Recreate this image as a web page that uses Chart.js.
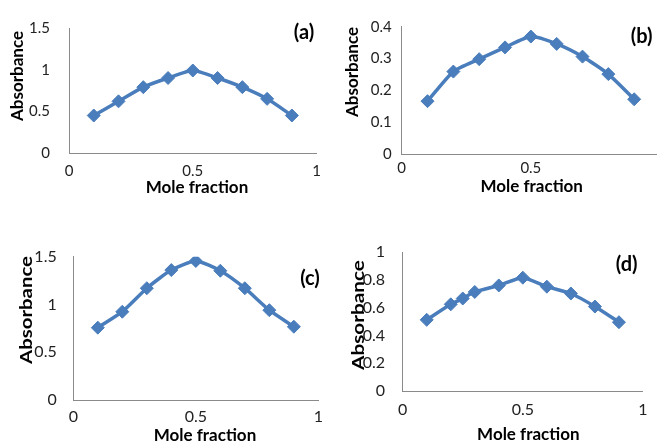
<!DOCTYPE html>
<html lang="en">
<head>
    <meta charset="UTF-8">
    <title>Absorbance vs mole fraction</title>
    <script src="https://cdn.jsdelivr.net/npm/chart.js"></script>
    <style>
        html, body { margin: 0; padding: 0; background: #fff; overflow: hidden; }
        #page { position: relative; width: 657px; height: 445px; overflow: hidden; }
        canvas { position: absolute; }
    </style>
</head>
<body>
<div id="page">
    <canvas id="chartA" width="330" height="200" style="left:0;top:0"></canvas>
    <canvas id="chartB" width="340" height="200" style="left:330px;top:0"></canvas>
    <canvas id="chartC" width="330" height="220" style="left:0;top:225px"></canvas>
    <canvas id="chartD" width="327" height="220" style="left:330px;top:225px"></canvas>
</div>

<script>
    // mole fractions used in each series
    const moleFraction = [0.1, 0.2, 0.3, 0.4, 0.5, 0.6, 0.7, 0.8, 0.9];
    const moleFractionD = [0.1, 0.2, 0.25, 0.3, 0.4, 0.5, 0.6, 0.7, 0.8, 0.9];

    // absorbance readings
    const absorbanceA = [0.45, 0.62, 0.79, 0.90, 0.99, 0.90, 0.79, 0.65, 0.45];
    const absorbanceB = [0.166, 0.259, 0.298, 0.335, 0.369, 0.346, 0.306, 0.251, 0.172];
    const absorbanceC = [0.757, 0.924, 1.17, 1.36, 1.455, 1.353, 1.17, 0.94, 0.767];
    const absorbanceD = [0.513, 0.625, 0.667, 0.714, 0.761, 0.817, 0.752, 0.703, 0.609, 0.496];

    // axis ticks
    const xTicks = [0, 0.5, 1];
    const yTicksA = [0, 0.5, 1, 1.5];
    const yTicksB = [0, 0.1, 0.2, 0.3, 0.4];
    const yTicksC = [0, 0.5, 1, 1.5];
    const yTicksD = [0, 0.2, 0.4, 0.6, 0.8, 1];

    const lineBlue = '#4a7dbb';

    // draws panel tag and axis titles
    const panelText = {
        id: 'panelText',
        afterDraw(chart, args, o) {
            const ctx = chart.ctx;
            ctx.save();
            ctx.fillStyle = '#000';
            ctx.textAlign = 'center';
            ctx.textBaseline = 'middle';
            ctx.font = 'bold 20px Lato';
            ctx.fillText(o.tag, o.tagX, o.tagY);
            ctx.font = 'bold 17px Lato';
            ctx.fillText('Mole fraction', o.xTitleX, o.xTitleY);
            ctx.translate(o.yTitleX, o.yTitleY);
            ctx.scale(1, o.stretch);
            ctx.rotate(-Math.PI / 2);
            ctx.fillText('Absorbance', 0, 0);
            ctx.restore();
        }
    };

    function makePanel(id, xs, ys, yTicks, g, text) {
        const tickFont = { family: 'Lato', size: g.tickSize };
        return new Chart(document.getElementById(id), {
            type: 'line',
            data: {
                datasets: [{
                    data: xs.map((x, i) => ({ x: x, y: ys[i] })),
                    borderColor: lineBlue,
                    backgroundColor: lineBlue,
                    borderWidth: 3.5,
                    tension: 0.2,
                    pointStyle: 'rectRot',
                    pointRadius: 6.5,
                    pointBorderWidth: 1
                }]
            },
            options: {
                responsive: false,
                animation: false,
                layout: { padding: { top: g.padTop, right: g.padRight, left: 0, bottom: 0 } },
                plugins: {
                    legend: { display: false },
                    tooltip: { enabled: false },
                    panelText: text
                },
                scales: {
                    x: {
                        type: 'linear',
                        min: 0,
                        max: 1,
                        afterBuildTicks: s => { s.ticks = xTicks.map(v => ({ value: v })); },
                        afterFit: s => { s.height = g.xAxisH; },
                        grid: { display: false, drawTicks: false },
                        border: { display: true, color: '#8a8a8a', width: 1 },
                        ticks: { padding: g.xPad, color: '#222', font: tickFont, maxRotation: 0, autoSkip: false, callback: v => String(v) }
                    },
                    y: {
                        min: yTicks[0],
                        max: yTicks[yTicks.length - 1],
                        afterBuildTicks: s => { s.ticks = yTicks.map(v => ({ value: v })); },
                        afterFit: s => { s.width = g.yAxisW; },
                        grid: { display: false, drawTicks: false },
                        border: { display: true, color: '#8a8a8a', width: 1 },
                        ticks: { padding: g.yPad, color: '#222', font: tickFont, autoSkip: false, callback: v => String(v) }
                    }
                }
            },
            plugins: [panelText]
        });
    }

    makePanel('chartA', moleFraction, absorbanceA, yTicksA,
        { yAxisW: 69, padTop: 20, padRight: 6.5, xAxisH: 47, yPad: 19, xPad: 9, tickSize: 15 },
        { tag: '(a)', tagX: 304, tagY: 33, xTitleX: 197, xTitleY: 188, yTitleX: 18, yTitleY: 76, stretch: 1 });

    makePanel('chartB', moleFraction, absorbanceB, yTicksB,
        { yAxisW: 71.7, padTop: 26.7, padRight: 10, xAxisH: 46, yPad: 10, xPad: 5.5, tickSize: 15 },
        { tag: '(b)', tagX: 311.7, tagY: 36.7, xTitleX: 201.7, xTitleY: 186.7, yTitleX: 22.7, yTitleY: 72, stretch: 1 });

    makePanel('chartC', moleFraction, absorbanceC, yTicksC,
        { yAxisW: 73.3, padTop: 31.7, padRight: 6, xAxisH: 45, yPad: 16.6, xPad: 7, tickSize: 16 },
        { tag: '(c)', tagX: 310, tagY: 53.3, xTitleX: 205, xTitleY: 211, yTitleX: 26.7, yTitleY: 85, stretch: 1.2 });

    makePanel('chartD', moleFractionD, absorbanceD, yTicksD,
        { yAxisW: 72.7, padTop: 23.3, padRight: 9.7, xAxisH: 54, yPad: 17.7, xPad: 9.4, tickSize: 16 },
        { tag: '(d)', tagX: 296.7, tagY: 40, xTitleX: 198.3, xTitleY: 210, yTitleX: 28.3, yTitleY: 90, stretch: 1.22 });
</script>
</body>
</html>
